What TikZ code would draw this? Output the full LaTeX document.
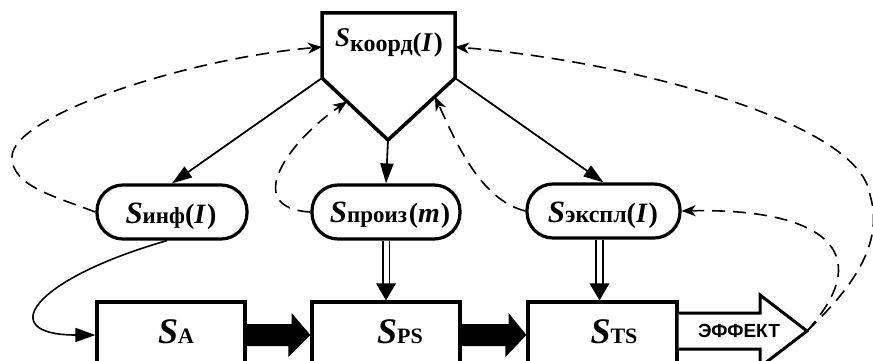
\documentclass[tikz,border=0pt]{standalone}
\usepackage{fontspec}
\setmainfont{Liberation Serif}
\newfontfamily\effectfont{Liberation Sans}
\usetikzlibrary{arrows.meta,calc}

\newcommand\fsz[1]{\fontsize{#1}{#1}\selectfont}
\newcommand\symS[1]{{\fsz{#1}\bfseries\itshape S}}
\newcommand\subtxt[2]{{\fsz{#1}\bfseries #2}}
\newcommand\argI[2]{{\fsz{#1}\bfseries(\textit{#2}\kern1pt)}}

\begin{document}
\begin{tikzpicture}[x=1pt,y=-1pt,
  box/.style={draw, line width=3.2pt, minimum width=148pt, minimum height=66pt, inner sep=0pt},
  pill/.style={draw, line width=3.2pt, rounded corners=26pt, minimum width=150pt, minimum height=54pt, inner sep=0pt},
  lbl/.style={anchor=base, inner sep=0pt},
  link/.style={line width=1.8pt, -{Triangle[length=20pt,width=13pt]}},
  fb/.style={line width=1.6pt, dash pattern=on 13pt off 8pt, -{Stealth[length=14pt,width=11pt,inset=4pt]}},
  dbl/.style={line width=1.6pt, double=white, double distance=5pt, shorten >=15pt},
]
\useasboundingbox (0,0) rectangle (873,361);
\clip (0,0) rectangle (873,361);

% coordinating unit (pentagon)
\coordinate (pTL) at (322,13);
\coordinate (pTR) at (455,13);
\coordinate (pR) at (455,78);
\coordinate (pB) at (388,140);
\coordinate (pL) at (322,78);
\draw[line width=3.5pt, line join=miter] (pTL) -- (pTR) -- (pR) -- (pB) -- (pL) -- cycle;
\coordinate (pinL) at (322,47);
\coordinate (pinR) at (455,47);
\coordinate (pinLL) at ($(pL)!0.38!(pB)$);
\coordinate (pinRL) at ($(pR)!0.3!(pB)$);
\node[lbl] (tk) at (389,52) {\raisebox{5pt}{\symS{27}}\subtxt{24}{коорд}\argI{27}{I}};

% subsystems
\node[pill] (inf) at (172,212) {};
\node[pill, minimum width=148pt] (proiz) at (386,212) {};
\node[pill, minimum width=153pt] (ekspl) at (603.5,211) {};
\node[lbl] (tinf) at (171,223) {\symS{31}\subtxt{23}{инф}\argI{28}{I}};
\node[lbl] (tproiz) at (390,222) {\symS{31}\subtxt{23}{произ}\,\argI{28}{m}};
\node[lbl] (tekspl) at (603,222) {\symS{31}\subtxt{24}{экспл}\argI{28}{I}};

% main chain
\node[box] (sa) at (171,335) {};
\node[box] (sps) at (386,335) {};
\node[box, minimum width=149pt] (sts) at (602.5,335) {};
\node[lbl] (ta) at (176,343) {\symS{36}\subtxt{22}{A}};
\node[lbl] (tps) at (400,343) {\symS{36}\subtxt{22}{PS}};
\node[lbl] (tts) at (614,343) {\symS{36}\subtxt{22}{TS}};

% block arrows between the boxes
\fill ($(sa.east)+(0,-11)$) -- ++(45,0) -- ++(0,-11) -- (sps.west) -- ++(-22,22) -- ++(0,-11) -- ++(-45,0) -- cycle;
\fill ($(sps.east)+(0,-11)$) -- ++(47,0) -- ++(0,-11) -- (sts.west) -- ++(-21,22) -- ++(0,-11) -- ++(-47,0) -- cycle;

% effect output arrow
\coordinate (etip) at (807,331);
\filldraw[fill=white, line width=3pt, line join=miter]
  ($(sts.east)+(0,-22)$) -- (760,313) -- (760,295) -- (etip) -- (760,367) -- (760,349) -- ($(sts.east)+(0,14)$);
\node[anchor=base, inner sep=0pt] (eff) at (739,337) {\effectfont\bfseries\fsz{19}ЭФФЕКТ};

% control links
\draw[link] (pL) -- (inf.north);
\draw[link] (pB) -- (proiz.north);
\draw[link] (pR) -- (ekspl.north);

% double links to the chain
\draw[dbl] (proiz.south) -- (sps.north);
\fill (sps.north) -- ++(-10,-17) -- ++(20,0) -- cycle;
\draw[dbl] ($(ekspl.south)+(-4,0)$) -- ($(sts.north)+(-3,0)$);
\fill ($(sts.north)+(-3,0)$) -- ++(-10,-17) -- ++(20,0) -- cycle;

% information link
\draw[line width=1.6pt, -{Triangle[length=20pt,width=14pt]}]
  ($(inf.south)+(-5,0)$) .. controls (30,280) and (-5,335) .. (sa.west);

% feedback loops
\draw[fb] (inf.west) .. controls (50,195) and (12,185) .. (12,157) .. controls (12,115) and (190,58) .. (pinL);
\draw[fb] (proiz.west) .. controls (240,208) and (290,140) .. (pinLL);
\draw[fb] (ekspl.west) .. controls (480,200) and (455,140) .. (pinRL);
\draw[fb] (etip) .. controls (880,250) and (820,208) .. (ekspl.east);
\draw[fb] (etip) .. controls (850,290) and (885,245) .. (870,195) .. controls (860,120) and (620,60) .. (pinR);
\end{tikzpicture}
\end{document}
